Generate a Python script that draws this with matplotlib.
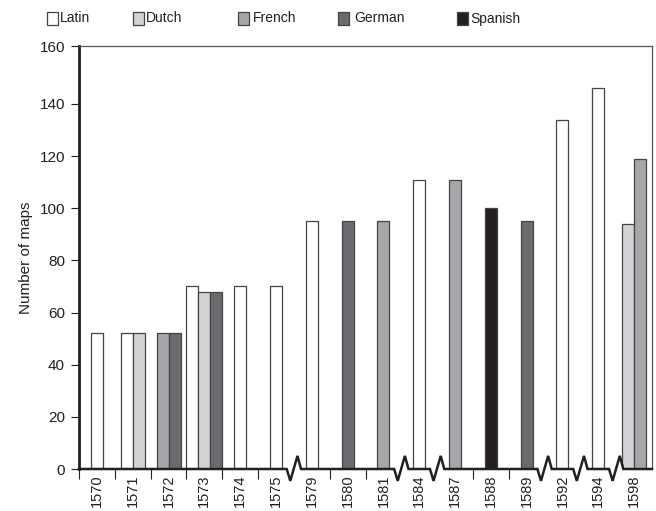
import numpy as np
import matplotlib
matplotlib.use('Agg')
import matplotlib.pyplot as plt
from matplotlib.patches import Rectangle
from matplotlib.transforms import blended_transform_factory

plt.rcParams['font.family'] = ['Liberation Sans', 'DejaVu Sans']

# data
years = ['1570', '1571', '1572', '1573', '1574', '1575', '1579', '1580',
         '1581', '1584', '1587', '1588', '1589', '1592', '1594', '1598']
languages = ['Latin', 'Dutch', 'French', 'German', 'Spanish']
latin = [52, 52, 0, 70, 70, 70, 95, 0, 0, 111, 0, 0, 0, 134, 146, 0]
dutch = [0, 52, 0, 68, 0, 0, 0, 0, 0, 0, 0, 0, 0, 0, 0, 94]
french = [0, 0, 52, 0, 0, 0, 0, 0, 95, 0, 111, 0, 0, 0, 0, 119]
german = [0, 0, 52, 68, 0, 0, 0, 95, 0, 0, 0, 0, 95, 0, 0, 0]
spanish = [0, 0, 0, 0, 0, 0, 0, 0, 0, 0, 0, 100, 0, 0, 0, 0]
# gaps in the year sequence (drawn as a zigzag on the axis)
breaks = [5.5, 8.5, 9.5, 12.5, 13.5, 14.5]

colors = ['#ffffff', '#d3d3d5', '#a6a7aa', '#6b6b6f', '#231f20']
series = [latin, dutch, french, german, spanish]

fig = plt.figure(figsize=(6.56, 5.11), dpi=100)
ax = fig.add_axes([79/656, 1 - 469/511, (652 - 79)/656, (469 - 46)/511])

w = 0.335
x = np.arange(len(years))
for i in range(len(years)):
    present = [k for k in range(len(series)) if series[k][i] > 0]
    n = len(present)
    for j, k in enumerate(present):
        xpos = x[i] + (j - (n - 1) / 2) * w
        ax.bar(xpos, series[k][i], width=w, color=colors[k],
               edgecolor='#444444', linewidth=0.9, zorder=2)

ax.set_xlim(-0.5, len(years) - 0.5)
ax.set_ylim(0, 162.2)
ax.set_yticks([0, 20, 40, 60, 80, 100, 120, 140, 162.2])
ax.set_yticklabels(['0', '20', '40', '60', '80', '100', '120', '140', '160'])
ax.tick_params(axis='y', direction='out', length=6, width=0.8,
               color='#231f20', labelsize=11, labelcolor='#231f20', pad=4)

ax.set_xticks(x)
ax.set_xticklabels(years, rotation=90)
ax.tick_params(axis='x', length=0, labelsize=10.5, labelcolor='#231f20', pad=4)
bounds = [b for b in np.arange(-0.5, len(years) - 1, 1.0) if b not in breaks]
ax.set_xticks(bounds, minor=True)
ax.tick_params(axis='x', which='minor', direction='out', length=7,
               width=0.8, color='#231f20')

ax.set_ylabel('Number of maps', fontsize=11, color='#231f20', labelpad=5)

ax.spines['left'].set_linewidth(2)
ax.spines['left'].set_color('#231f20')
for s in ['top', 'right']:
    ax.spines[s].set_linewidth(0.9)
    ax.spines[s].set_color('#555555')
ax.spines['bottom'].set_visible(False)

# baseline with zigzag breaks
tr = blended_transform_factory(ax.transData, ax.transAxes)
bx = [-0.5]
by = [0]
for b in breaks:
    bx += [b - 0.2, b - 0.1, b + 0.1, b + 0.2]
    by += [0, -0.028, 0.031, 0]
bx.append(len(years) - 0.5)
by.append(0)
ax.plot(bx, by, color='#231f20', linewidth=1.8, transform=tr,
        clip_on=False, zorder=5, solid_joinstyle='miter')

# legend along the top
leg_sq = [47, 133, 238, 338, 457]
leg_tx = [60, 146, 253, 354, 470]
for k, lang in enumerate(languages):
    fig.add_artist(Rectangle((leg_sq[k]/656, 1 - 25/511), 11/656, 13/511,
                             transform=fig.transFigure, facecolor=colors[k],
                             edgecolor='#444444', linewidth=0.9))
    fig.text(leg_tx[k]/656, 1 - 18.5/511, lang, fontsize=10,
             color='#231f20', va='center', ha='left')

fig.savefig('out.png', dpi=100)
